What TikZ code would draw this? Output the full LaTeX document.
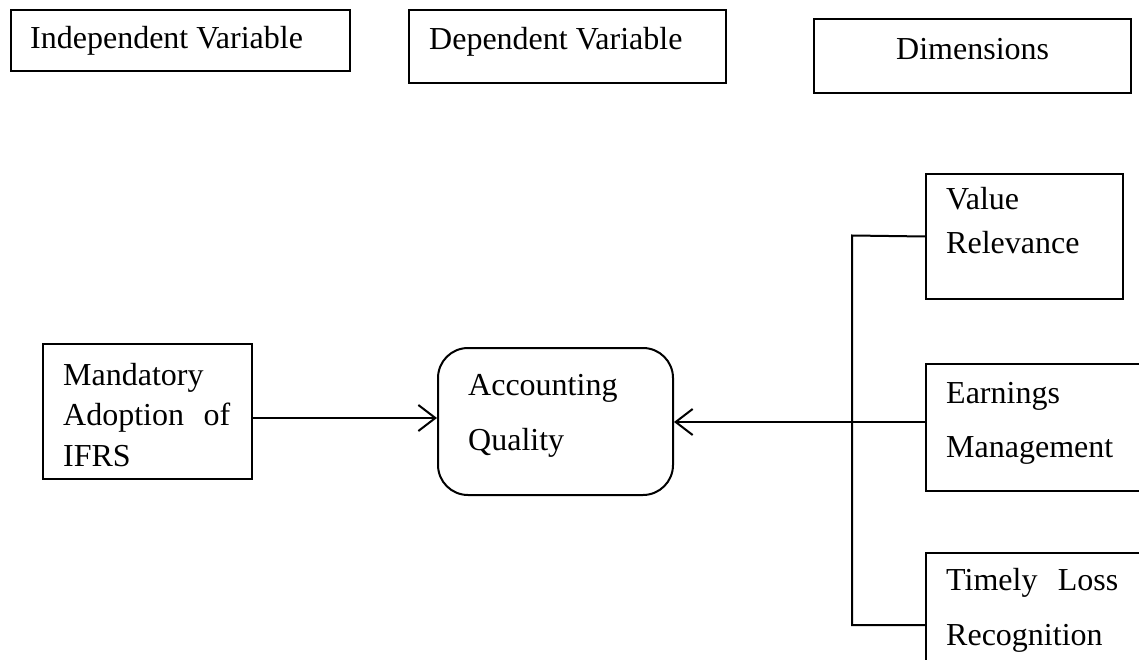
\documentclass[tikz,border=0pt]{standalone}
\usepackage{fontspec}
\setmainfont{Liberation Serif}
\usetikzlibrary{arrows.meta}
\tikzset{
  box/.style={draw, line width=2pt, inner sep=0pt, anchor=north west},
  roundbox/.style={box, rounded corners=30pt},
  lbl/.style={anchor=base west, inner sep=0pt, font=\fontsize{32}{40}\selectfont},
  link/.style={line width=2pt},
  arr/.style={link, -{Straight Barb[length=17pt, width=26pt, line width=2pt]}}
}
\begin{document}
\begin{tikzpicture}[x=1pt, y=-1pt]
\useasboundingbox (0,0) rectangle (1139,660);
\clip (0,0) rectangle (1139,660);

% heading boxes
\node[box, minimum width=339pt, minimum height=61pt] (iv) at (10,9) {};
\node[lbl] (ivt) at (30,49) {Independent Variable};
\node[box, minimum width=317pt, minimum height=73pt] (dv) at (408,9) {};
\node[lbl] (dvt) at (429,50) {Dependent Variable};
\node[box, minimum width=317pt, minimum height=74pt] (dim) at (813,18) {};
\node[lbl] (dimt) at (896,60) {Dimensions};

% independent variable
\node[box, minimum width=209pt, minimum height=135pt] (mand) at (42,343) {};
\node[lbl] (mt1) at (63,385) {Mandatory};
\node[lbl] (mt2) at (63,425) {\hbox to 167pt{Adoption\hfill of}};
\node[lbl] (mt3) at (63,466) {IFRS};

% dependent variable
\node[roundbox, minimum width=235pt, minimum height=147pt] (aq) at (437,347) {};
\node[lbl] (aqt1) at (468,395) {Accounting};
\node[lbl] (aqt2) at (468,450) {Quality};

% dimensions
\node[box, minimum width=197pt, minimum height=125pt] (vr) at (925,173) {};
\node[lbl] (vrt1) at (946,210) {Value};
\node[lbl] (vrt2) at (946,253) {Relevance};
\node[box, minimum width=230pt, minimum height=127pt] (em) at (925,363) {};
\node[lbl] (emt1) at (946,403) {Earnings};
\node[lbl] (emt2) at (946,457) {Management};
\node[box, minimum width=230pt, minimum height=130pt] (tlr) at (925,552) {};
\node[lbl] (tlrt1) at (946,590) {\hbox to 172pt{Timely\hfill Loss}};
\node[lbl] (tlrt2) at (946,645) {Recognition};

% connectors
\coordinate (ja) at (0,418);
\coordinate (jv) at (852,235.5);
\coordinate (jm) at (852,422);
\coordinate (jt) at (852,625);
\draw[arr] (ja -| mand.east) -- (ja -| aq.west);
\draw[link] (vr.west) -- (jv) -- (jt) -- (jt -| tlr.west);
\draw[link] (jm -| em.west) -- (jm);
\draw[arr] (jm) -- (jm -| aq.east);
\end{tikzpicture}
\end{document}
